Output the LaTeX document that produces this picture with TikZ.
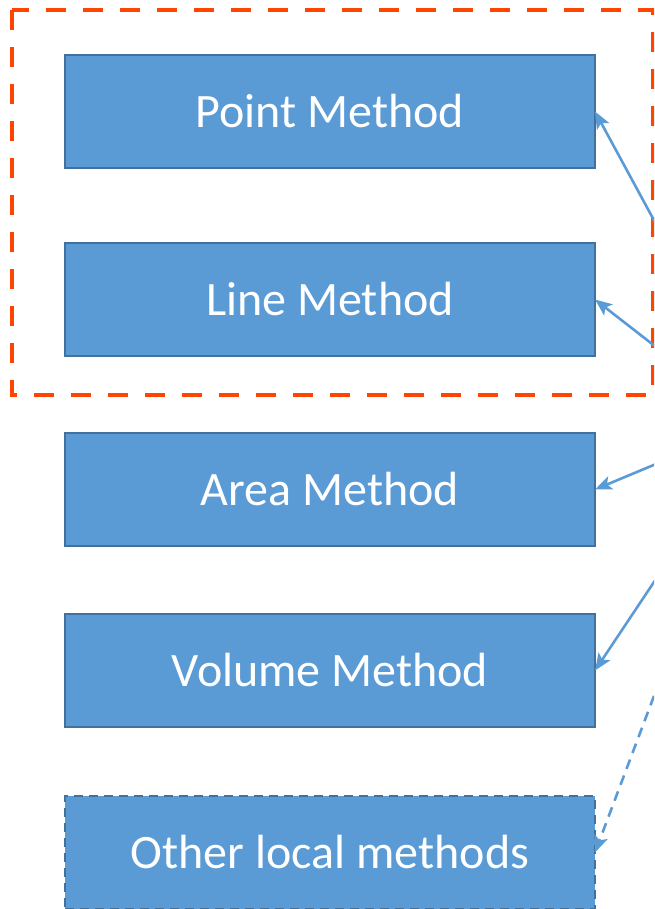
\documentclass[tikz,border=0pt]{standalone}
\usepackage{fontspec}
\setmainfont{Carlito}
\usepackage{tikz}
\usetikzlibrary{
  arrows.meta,
  positioning
}
\definecolor{mdFill}{HTML}{5B9BD5}
\definecolor{mdEdge}{HTML}{41719C}
\definecolor{mdGroup}{HTML}{FF4500}
\definecolor{mdLink}{HTML}{5B9BD5}
\tikzset{
  mdnode/.style={
    draw=mdEdge, fill=mdFill, line width=2.6pt, minimum width=530pt, minimum height=113pt,
    text=white, font=\fontsize{48}{57}\selectfont, inner sep=0pt, outer sep=0pt
  },
  mdother/.style={mdnode, dash pattern=on 9pt off 6pt},
  group/.style={draw=mdGroup, line width=4pt, dash pattern=on 20pt off 17pt},
  link/.style={-{Stealth[length=17pt, width=14pt, inset=4pt]}, line width=2.6pt, mdLink},
  linkdash/.style={link, dash pattern=on 10pt off 7pt}
}

\begin{document}
\begin{tikzpicture}[x=1pt, y=-1pt]
  \useasboundingbox (0,0) rectangle (654,909);
  \clip (0,0) rectangle (654,909);
  % method boxes
  \node[mdnode, anchor=north west] (point) at (65,55) {Point Method};
  \node[mdnode, below=75pt of point] (line) {Line Method};
  \node[mdnode, below=77pt of line] (area) {Area Method};
  \node[mdnode, below=68pt of area] (volume) {Volume Method};
  \node[mdother, below=69pt of volume] (other) {Other local methods};
  % grouping frame round the first two
  \draw[group] (12,10) rectangle (653,395);
  % incoming links from the right
  \coordinate (srcA) at (656,224);
  \coordinate (srcB) at (656,347);
  \coordinate (srcC) at (656,464);
  \coordinate (srcD) at (656,579);
  \coordinate (srcE) at (660,680);
  \draw[link] (srcA) -- (point.east);
  \draw[link] (srcB) -- (line.east);
  \draw[link] (srcC) -- (area.east);
  \draw[link] (srcD) -- (volume.east);
  \draw[linkdash] (srcE) -- (other.east);
\end{tikzpicture}
\end{document}
